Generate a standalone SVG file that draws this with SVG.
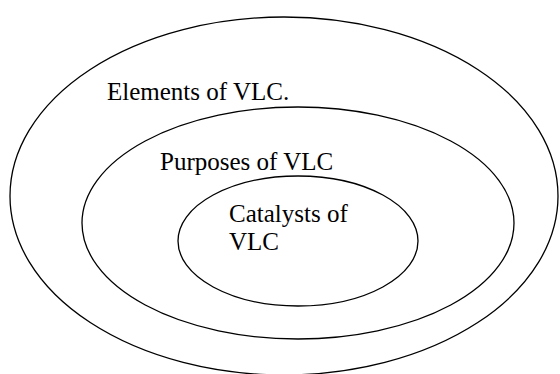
<svg xmlns="http://www.w3.org/2000/svg" width="560" height="374" viewBox="0 0 560 374">
<style>
.e{fill:none;stroke:#000;stroke-width:1.3}
.t{font-family:'Liberation Serif','Times New Roman','DejaVu Serif',serif;font-size:25px;fill:#000}
</style>
<rect width="560" height="374" fill="#fff"/>
<g id="elements">
<ellipse class="e" cx="284" cy="196" rx="274" ry="179"/>
<text class="t" x="107" y="100">Elements of VLC.</text>
</g>
<g id="purposes">
<ellipse class="e" cx="298" cy="223" rx="216" ry="116"/>
<text class="t" x="160" y="170">Purposes of VLC</text>
</g>
<g id="catalysts">
<ellipse class="e" cx="298" cy="241" rx="120" ry="65"/>
<text class="t" x="229" y="222">Catalysts of</text>
<text class="t" x="229" y="250">VLC</text>
</g>
<g id="connectors"></g>
</svg>
